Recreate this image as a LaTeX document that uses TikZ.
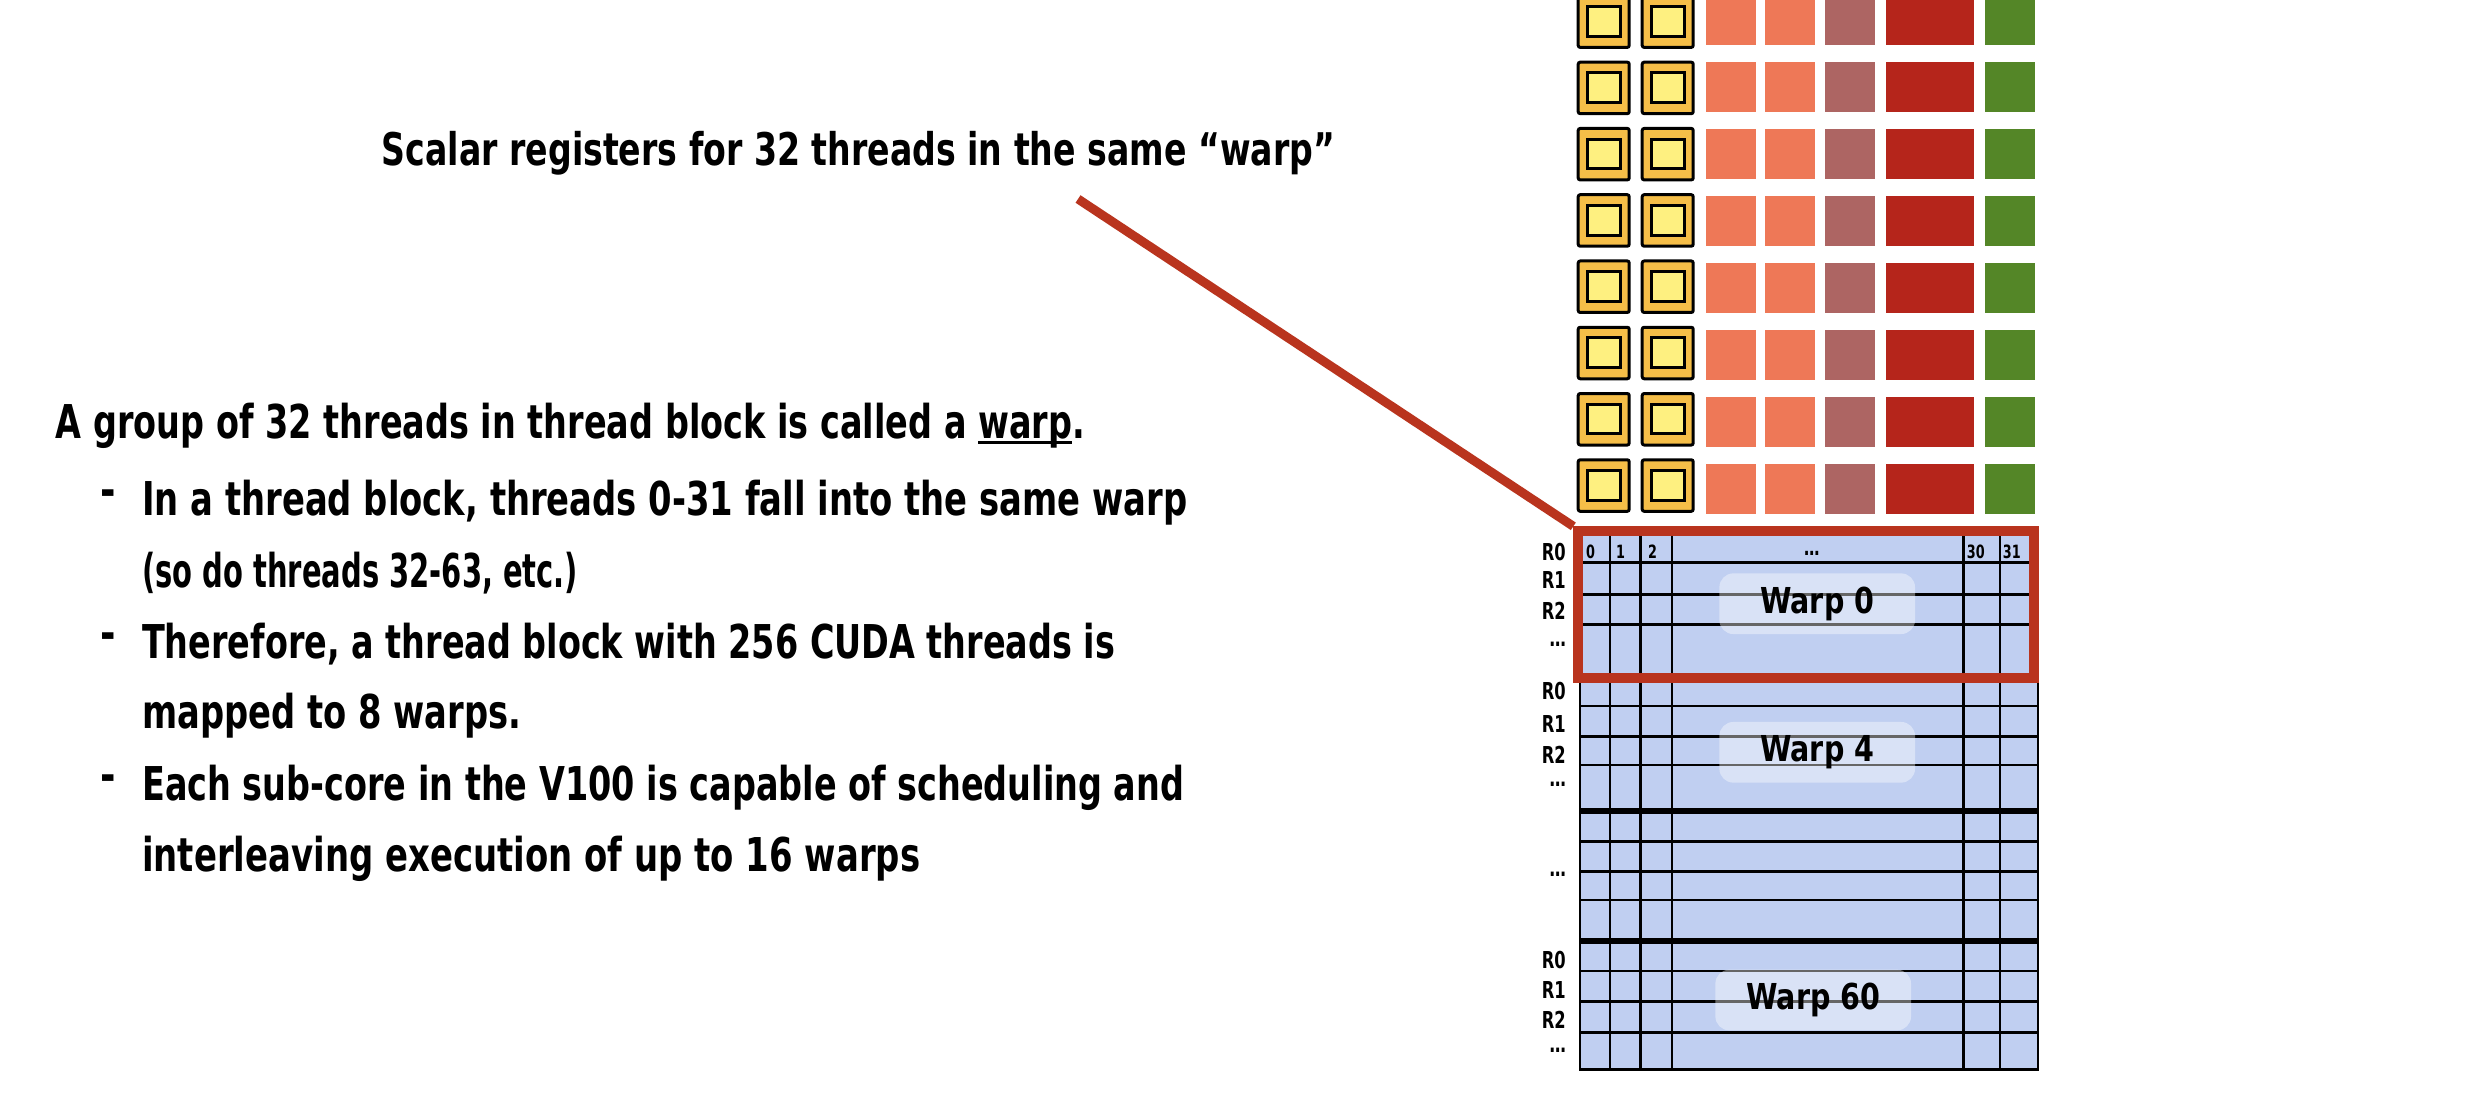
\documentclass[tikz,border=0pt]{standalone}
\usepackage{fontspec}
\setmainfont{DejaVu Sans}
\usepackage{graphicx}
\definecolor{regblue}{RGB}{192,207,241}
\definecolor{selred}{RGB}{185,52,30}
\definecolor{ygold}{RGB}{245,190,72}
\definecolor{ylight}{RGB}{254,240,128}
\definecolor{corange}{RGB}{238,120,87}
\definecolor{cmauve}{RGB}{173,101,99}
\definecolor{cred}{RGB}{181,37,27}
\definecolor{cgreen}{RGB}{84,134,39}
\newcommand\myul[1]{\setbox0\hbox{#1}\rlap{\rule[-6pt]{\wd0}{3pt}}\box0}
\newcommand\cond[1]{\scalebox{0.7}[1]{#1}}
\tikzset{
  txt/.style={anchor=base west, inner sep=0, font=\fontsize{46.6}{56}\selectfont\bfseries},
  bul/.style={anchor=base, inner sep=0, font=\fontsize{46.6}{56}\selectfont\bfseries},
  rlab/.style={anchor=base east, inner sep=0, font=\fontsize{23.3}{28}\selectfont\bfseries},
  clab/.style={anchor=base west, inner sep=0, font=\fontsize{18.3}{22}\selectfont\bfseries},
  cdots/.style={anchor=base, inner sep=0, font=\fontsize{22}{26}\selectfont\bfseries},
  warplab/.style={rounded corners=14pt, fill=white, fill opacity=0.4, text opacity=1,
    minimum width=195.7pt, minimum height=60.7pt, inner sep=0,
    font=\fontsize{35.7}{44}\selectfont\bfseries},
  gridline/.style={line width=2.7pt, black},
  thickline/.style={line width=6pt, black},
  ybox/.style={draw=black, line width=3pt, fill=ygold, rounded corners=2pt},
  yinner/.style={draw=black, line width=3pt, fill=ylight},
}
\begin{document}
\begin{tikzpicture}[x=1pt,y=-1pt]
\fill[white] (0,0) rectangle (2492,1108);
\useasboundingbox (0,0) rectangle (2492,1108);

% ---- execution unit rows ----
\foreach \k in {0,...,7}{
  \pgfmathsetmacro{\yt}{-5.6+66.27*\k}
  \pgfmathsetmacro{\ct}{-5+67*\k}
  \foreach \dx in {0,64}{
    \draw[ybox] (1578.2+\dx,\yt+1.5) rectangle (1629.2+\dx,\yt+53);
    \draw[yinner] (1587.5+\dx,\yt+12.1) rectangle (1620.2+\dx,\yt+41.8);
  }
  \fill[corange] (1706,\ct) rectangle (1756,\ct+50);
  \fill[corange] (1765.3,\ct) rectangle (1815,\ct+50);
  \fill[cmauve] (1825,\ct) rectangle (1875,\ct+50);
  \fill[cred] (1886,\ct) rectangle (1974,\ct+50);
  \fill[cgreen] (1985,\ct) rectangle (2035,\ct+50);
}

% ---- register file grid ----
\fill[regblue] (1580,532) rectangle (2038,1069.3);
\foreach \y in {562.7,594.3,624.3,706,736.7,765,841.7,871.7,900,971,1001.7,1032.3}
  \draw[gridline] (1580,\y) -- (2038,\y);
\foreach \y in {675.5,810.7,941}
  \draw[thickline] (1580,\y) -- (2038,\y);
\foreach \x in {1610,1640.7,1672,1963.3,2000}
  \draw[gridline] (\x,532) -- (\x,1069.3);
\draw[gridline] (1580,532) rectangle (2038,1069.3);

% column headers
\node[clab] (c0) at (1586,558.4) {\cond{0}};
\node[clab] (c1) at (1616,558.4) {\cond{1}};
\node[clab] (c2) at (1648,558.4) {\cond{2}};
\node[cdots] (cd) at (1811.7,555) {\cond{…}};
\node[clab] (c30) at (1966.7,558.4) {\cond{30}};
\node[clab] (c31) at (2002.7,558.4) {\cond{31}};

% row labels
\node[rlab] (a0) at (1566,560) {\cond{R0}};
\node[rlab] (a1) at (1566,588.5) {\cond{R1}};
\node[rlab] (a2) at (1566,619.5) {\cond{R2}};
\node[rlab] (a3) at (1566,646.5) {\cond{…}};
\node[rlab] (b0) at (1566,699) {\cond{R0}};
\node[rlab] (b1) at (1566,732) {\cond{R1}};
\node[rlab] (b2) at (1566,763) {\cond{R2}};
\node[rlab] (b3) at (1566,786.8) {\cond{…}};
\node[rlab] (m3) at (1566,876.5) {\cond{…}};
\node[rlab] (d0) at (1566,968.5) {\cond{R0}};
\node[rlab] (d1) at (1566,998.5) {\cond{R1}};
\node[rlab] (d2) at (1566,1028.5) {\cond{R2}};
\node[rlab] (d3) at (1566,1052.5) {\cond{…}};

% warp labels
\node[warplab] (w0) at (1817.2,603.7) {\resizebox{114pt}{\height}{Warp 0}};
\node[warplab] (w4) at (1817.2,752.3) {\resizebox{114pt}{\height}{Warp 4}};
\node[warplab] (w60) at (1813.2,1000) {\resizebox{134pt}{\height}{Warp 60}};

% highlight and connector
\node[draw=selred, line width=10pt, minimum width=455.7pt, minimum height=146.2pt,
      inner sep=0, outer sep=5pt] (sel) at (1806.15,604.4) {};
\coordinate (cstart) at (1078,199);
\draw[selred, line width=9pt] (cstart) -- (sel.north west);

% texts
\node[txt, font=\fontsize{45}{54}\selectfont\bfseries] (title) at (381.7,165)
  {\resizebox{953pt}{\height}{Scalar registers for 32 threads in the same “warp”}};
\node[txt] (l1) at (55.6,438.3)
  {\resizebox{1029pt}{\height}{A group of 32 threads in thread block is called a \myul{warp}.}};
\node[bul] (d1b) at (108,506.5) {\scalebox{0.8}[1]{-}};
\node[txt] (l2) at (142,515) {\resizebox{1045pt}{\height}{In a thread block, threads 0-31 fall into the same warp}};
\node[txt] (l3) at (142,587) {\resizebox{436pt}{\height}{(so do threads 32-63, etc.)}};
\node[bul] (d2b) at (108,649.5) {\scalebox{0.8}[1]{-}};
\node[txt] (l4) at (142,658) {\resizebox{973pt}{\height}{Therefore, a thread block with 256 CUDA threads is}};
\node[txt] (l5) at (142,728) {\resizebox{379pt}{\height}{mapped to 8 warps.}};
\node[bul] (d3b) at (108,791.5) {\scalebox{0.8}[1]{-}};
\node[txt] (l6) at (142,800) {\resizebox{1042pt}{\height}{Each sub-core in the V100 is capable of scheduling and}};
\node[txt] (l7) at (142,871) {\resizebox{778pt}{\height}{interleaving execution of up to 16 warps}};
\end{tikzpicture}
\end{document}
